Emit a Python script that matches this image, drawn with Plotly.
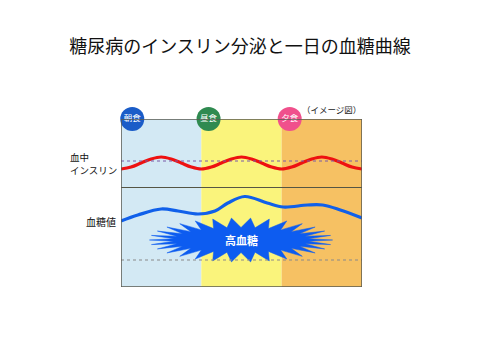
import numpy as np
import plotly.graph_objects as go

FONT = "Noto Sans CJK JP"

title_text = "糖尿病のインスリン分泌と一日の血糖曲線"
meal_labels = ["朝食", "昼食", "夕食"]
meal_badge_x = [0.14, 1.09, 2.1]
meal_badge_colors = ["#1a5cc8", "#2f8a50", "#f0508c"]
meal_bg_colors = ["#d3e9f4", "#faf47c", "#f6c163"]
meal_start = [0, 1, 2]
meal_end = [1, 2, 3]

# insulin curve (blood insulin level), x in meal periods
insulin_x = [0, 0.125, 0.25, 0.375, 0.5, 0.625, 0.75, 0.875,
             1, 1.125, 1.25, 1.375, 1.5, 1.625, 1.75, 1.875,
             2, 2.125, 2.25, 2.375, 2.5, 2.625, 2.75, 2.875, 3]
insulin_y = [118, 120, 124, 128, 130, 128, 124, 120,
             118, 120, 124, 128, 130, 128, 124, 120,
             118, 120, 124, 128, 130, 128, 124, 120, 118]

# blood glucose curve
glucose_x = [0, 0.21, 0.5, 0.71, 0.96, 1.17, 1.33, 1.54, 1.82, 2.02, 2.32, 2.51, 2.73, 3]
glucose_y = [66, 72, 78, 76, 73, 76, 84, 90.5, 84, 80, 82, 82, 77, 69]

insulin_ref = 126
glucose_ref = 27
divider_y = 99.5

Y_MAX = 168
OFF = 8  # page offset of the figure inside the browser window

PW, PH = 241.0, 168.0  # plot area in px


def px2paper_x(px):
    return (px - 121) / PW


def px2paper_y(py):
    return (287 - py) / PH


fig = go.Figure()

shapes = []
for s, e, c in zip(meal_start, meal_end, meal_bg_colors):
    shapes.append(dict(type="rect", xref="x", yref="y", x0=s, x1=e, y0=0, y1=Y_MAX,
                       fillcolor=c, line=dict(width=0), layer="below"))
shapes.append(dict(type="line", xref="x", yref="y", x0=0, x1=3, y0=insulin_ref, y1=insulin_ref,
                   line=dict(color="#7a5aa8", width=1, dash="dot")))
shapes.append(dict(type="line", xref="x", yref="y", x0=0, x1=3, y0=glucose_ref, y1=glucose_ref,
                   line=dict(color="#8a8a8a", width=1.2, dash="dot")))
shapes.append(dict(type="line", xref="x", yref="y", x0=0, x1=3, y0=divider_y, y1=divider_y,
                   line=dict(color="#555544", width=1.2)))
shapes.append(dict(type="rect", xref="x", yref="y", x0=0, x1=3, y0=0, y1=Y_MAX,
                   line=dict(color="#5a5a50", width=1.5), fillcolor="rgba(0,0,0,0)"))

# starburst (decorative)
cx, cy = 1.494, 47
n = 30
ang = np.linspace(0, 2 * np.pi, 2 * n + 1)
rx = np.where(np.arange(2 * n + 1) % 2 == 0, 1.14, 0.84)
ry = np.where(np.arange(2 * n + 1) % 2 == 0, 22, 12.5)
sx = cx + rx * np.cos(ang)
sy = cy + ry * np.sin(ang)
fig.add_trace(go.Scatter(x=sx, y=sy, mode="lines", fill="toself", fillcolor="#0d5cf0",
                         line=dict(color="#0d5cf0", width=0.5), hoverinfo="skip",
                         showlegend=False))

fig.add_trace(go.Scatter(x=insulin_x, y=insulin_y, mode="lines",
                         line=dict(color="#ee1111", width=3.2, shape="spline"),
                         showlegend=False))
fig.add_trace(go.Scatter(x=glucose_x, y=glucose_y, mode="lines",
                         line=dict(color="#1060ea", width=3.2, shape="spline"),
                         showlegend=False))

fig.add_trace(go.Scatter(x=meal_badge_x, y=[Y_MAX] * 3, mode="markers+text",
                         marker=dict(size=24, color=meal_badge_colors, line=dict(width=0)),
                         text=meal_labels, textposition="middle center",
                         textfont=dict(family=FONT, size=8.5, color="white"),
                         cliponaxis=False, showlegend=False))

annotations = [
    dict(text="<b>高血糖</b>", x=cx, y=cy, xref="x", yref="y", showarrow=False,
         font=dict(family=FONT, size=11, color="white")),
    dict(text="（イメージ図）", x=px2paper_x(363), y=px2paper_y(109), xref="paper", yref="paper",
         xanchor="right", yanchor="middle",
         showarrow=False, font=dict(family=FONT, size=8.5, color="#222")),
    dict(text="血中", x=px2paper_x(69), y=px2paper_y(157), xref="paper", yref="paper",
         xanchor="left", yanchor="middle", borderpad=0,
         showarrow=False, font=dict(family=FONT, size=9.5, color="#111")),
    dict(text="インスリン", x=px2paper_x(69), y=px2paper_y(169.5), xref="paper", yref="paper",
         xanchor="left", yanchor="middle", borderpad=0,
         showarrow=False, font=dict(family=FONT, size=9.5, color="#111")),
    dict(text="血糖値", x=px2paper_x(118), y=px2paper_y(221), xref="paper", yref="paper",
         xanchor="right", yanchor="middle",
         showarrow=False, font=dict(family=FONT, size=10, color="#111")),
]

fig.update_layout(
    width=480, height=360,
    margin=dict(l=121 - OFF, r=118 + OFF, t=119 - OFF, b=73 + OFF),
    paper_bgcolor="white", plot_bgcolor="white",
    title=dict(text=title_text, x=(240 - OFF) / 480, xanchor="center",
               y=1 - (47 - OFF) / 360, yanchor="middle",
               font=dict(family=FONT, size=18, color="#111")),
    xaxis=dict(range=[0, 3], visible=False, fixedrange=True),
    yaxis=dict(range=[0, Y_MAX], visible=False, fixedrange=True),
    shapes=shapes, annotations=annotations,
)

fig.write_html("out.html")
